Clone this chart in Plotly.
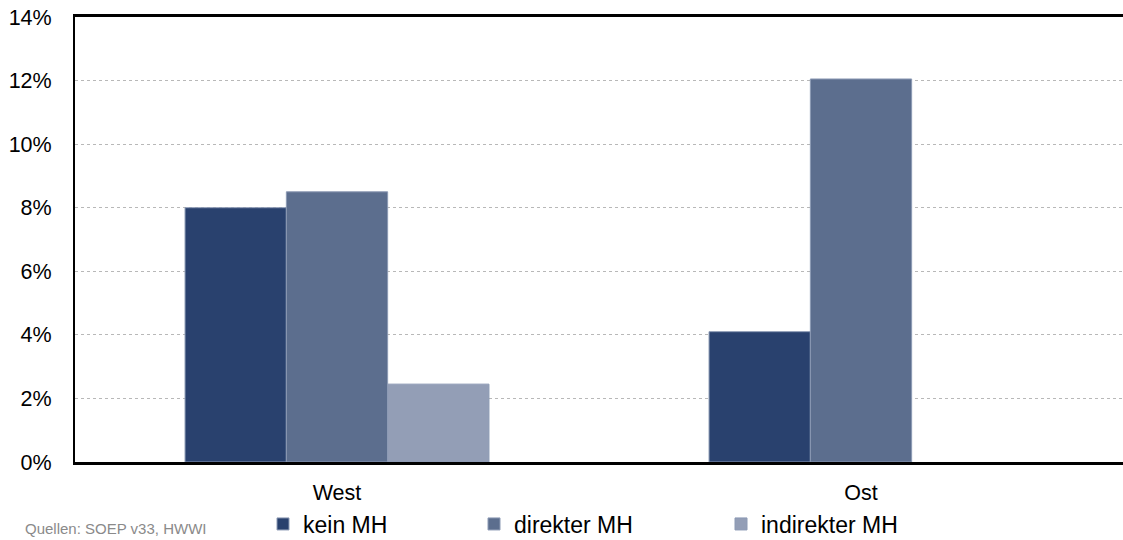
import plotly.graph_objects as go

categories = ["West", "Ost"]
series_names = ["kein MH", "direkter MH", "indirekter MH"]
kein_mh = [8.0, 4.1]
direkter_mh = [8.5, 12.05]
indirekter_mh = [2.45, None]
y_ticks = [0, 2, 4, 6, 8, 10, 12, 14]
y_tick_labels = ["0%", "2%", "4%", "6%", "8%", "10%", "12%", "14%"]
source_text = "Quellen: SOEP v33, HWWI"

colors = ["#29416e", "#5c6e8e", "#939eb6"]
values = [kein_mh, direkter_mh, indirekter_mh]
legend_ids = ["legend", "legend2", "legend3"]

FONT = "Liberation Sans, Arial, sans-serif"

fig = go.Figure()
for name, vals, col, lid in zip(series_names, values, colors, legend_ids):
    fig.add_trace(go.Bar(
        x=categories, y=vals, name=name,
        marker=dict(color=col, line=dict(color="#8c9ab4", width=1)),
        legend=lid,
    ))

W, H = 1123, 540
ml, mr, mt, mb = 75, 0, 17, 78

def cx(x):
    return x / W

def cy(y):
    return 1 - y / H

leg_common = dict(orientation="h", yanchor="middle", xanchor="left",
                  xref="container", yref="container",
                  font=dict(family=FONT, size=23, color="#000000"),
                  bgcolor="rgba(0,0,0,0)", itemwidth=30, tracegroupgap=0,
                  borderwidth=0)
leg_y = cy(524)

fig.update_layout(
    width=W, height=H,
    margin=dict(l=ml, r=mr, t=mt, b=mb, autoexpand=False),
    paper_bgcolor="white", plot_bgcolor="white",
    barmode="group", bargap=0.42, bargroupgap=0,
    font=dict(family=FONT, size=21, color="#000000"),
    showlegend=True,
    legend=dict(x=cx(263), y=leg_y, **leg_common),
    legend2=dict(x=cx(474), y=leg_y, **leg_common),
    legend3=dict(x=cx(721), y=leg_y, **leg_common),
    xaxis=dict(showline=True, linecolor="#000000", linewidth=2.5, mirror=True,
               ticks="", ticklabelstandoff=9, showgrid=False,
               tickfont=dict(family=FONT, size=21.5)),
    yaxis=dict(range=[0, 14], tickvals=y_ticks, ticktext=y_tick_labels,
               showline=True, linecolor="#000000", linewidth=2,
               showgrid=True, gridcolor="#b8b8b8", griddash="dot", gridwidth=1,
               zeroline=False, ticks="", ticklabelstandoff=17,
               tickfont=dict(family=FONT, size=21.5)),
    annotations=[dict(text=source_text, xref="paper", yref="paper",
                      x=(23 - ml) / (W - ml - mr), y=(H - mb - 539) / (H - mt - mb),
                      xanchor="left", yanchor="bottom",
                      showarrow=False,
                      font=dict(family=FONT, size=15, color="#8a8a8a"))],
)

fig.write_html("out.html",
               config={"displayModeBar": False},
               post_script="document.body.style.margin='0';document.body.style.overflow='hidden';")
